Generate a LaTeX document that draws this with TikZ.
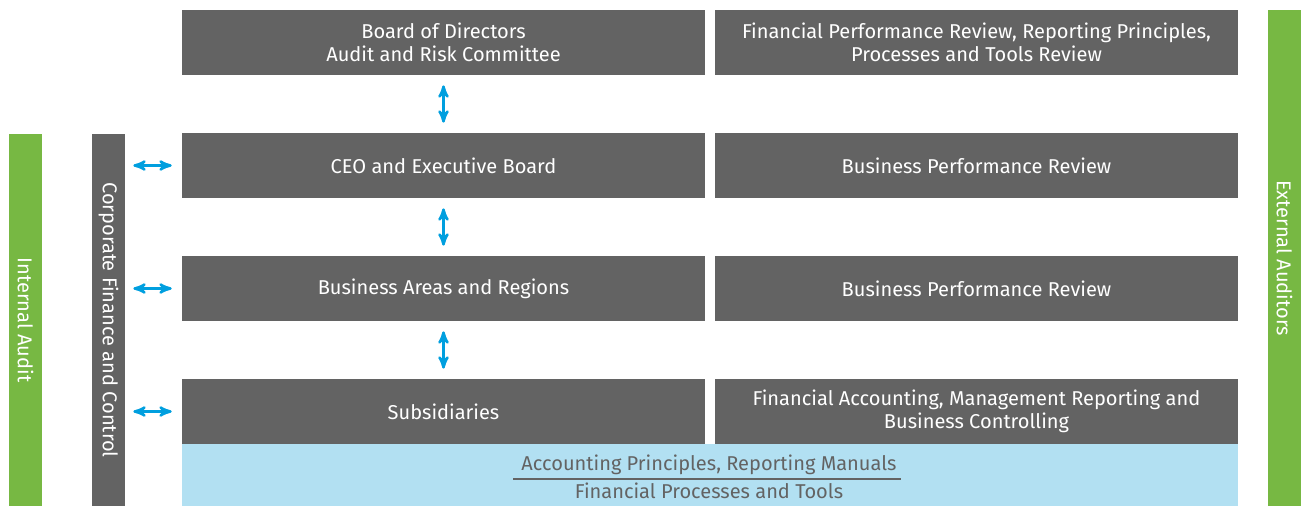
\documentclass[tikz,border=0pt]{standalone}
\usepackage{fontspec}
\setmainfont{Fira Sans}
\usepackage{tikz}
\usetikzlibrary{arrows}
\definecolor{boxgray}{RGB}{99,99,99}
\definecolor{auditgreen}{RGB}{119,184,67}
\definecolor{manualblue}{RGB}{178,224,242}
\definecolor{linkblue}{RGB}{0,159,223}
\begin{document}
\begin{tikzpicture}
[x=0.02cm,y=-0.02cm,
  graybox/.style={fill=boxgray,text=white,minimum width=10.46cm,minimum height=1.3cm,
    inner sep=0pt,align=center,font=\fontsize{11.4}{13}\selectfont},
  sidebar/.style={rotate=-90,text=white,minimum height=0.66cm,inner sep=0pt,
    font=\fontsize{11.4}{13}\selectfont},
  linkarrow/.style={stealth'-stealth',line width=1.4pt,draw=linkblue,shorten <=0.2cm,shorten >=0.2cm}]
\useasboundingbox (0,0) rectangle (1301,506);
%% rows of boxes
\foreach \nodename/\y/\lefttext/\righttext in {
  board/42.5/{Board of Directors\\Audit and Risk Committee}/{Financial Performance Review, Reporting Principles,\\Processes and Tools Review},
  ceo/165.5/{CEO and Executive Board}/{Business Performance Review},
  areas/288.5/{Business Areas and Regions}/{Business Performance Review},
  subs/411.5/{Subsidiaries}/{Financial Accounting, Management Reporting and\\Business Controlling}}
{
  \node (\nodename) at (443.5,\y) [graybox] {\lefttext};
  \node (\nodename-r) at (976.5,\y) [graybox] {\righttext};
}
%% manuals bar
\node (manuals) at (710,475) [fill=manualblue,minimum width=21.12cm,minimum height=1.24cm,inner sep=0pt] {};
\node (principles) at (709,465) [text=boxgray,font=\fontsize{11.4}{13}\selectfont] {Accounting Principles, Reporting Manuals};
\node (tools) at (709,491) [text=boxgray,font=\fontsize{11.4}{13}\selectfont] {Financial Processes and Tools};
\draw[boxgray,line width=0.6pt] (513,479) -- (901,479);
%% side bars
\node (internal) at (25.5,320) [sidebar,fill=auditgreen,minimum width=7.44cm] {Internal Audit};
\node (corp) at (108.5,320) [sidebar,fill=boxgray,minimum width=7.44cm] {Corporate Finance and Control};
\node (external) at (1284.5,258) [sidebar,fill=auditgreen,minimum width=9.92cm] {External Auditors};
%% arrows
\path
\foreach \startnode/\endnode in {board/ceo, ceo/areas, areas/subs}
{
  (\startnode) edge[linkarrow] (\endnode)
};
\foreach \endnode in {ceo, areas, subs}
{
  \draw[linkarrow,shorten <=0.16cm] (\endnode.west -| corp.north) -- (\endnode.west);
}
\end{tikzpicture}
\end{document}
